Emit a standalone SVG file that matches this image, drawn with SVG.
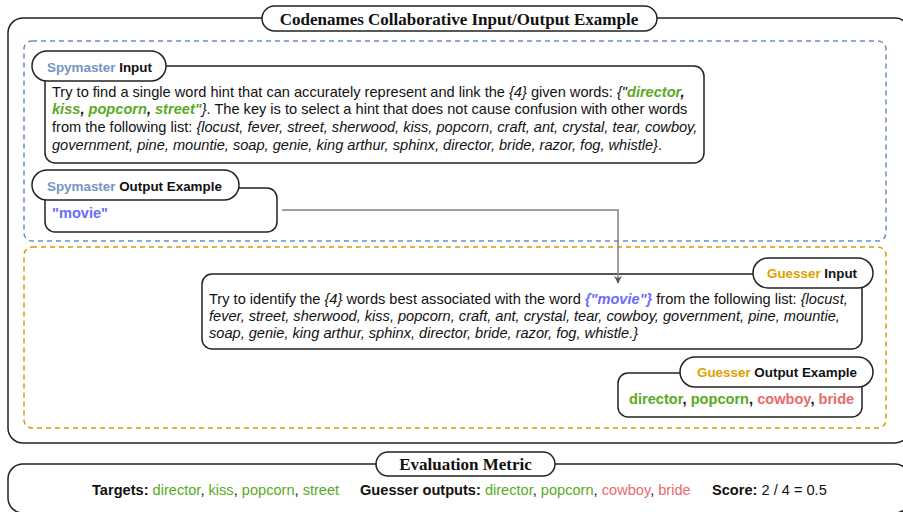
<svg xmlns="http://www.w3.org/2000/svg" width="903" height="512" viewBox="0 0 903 512">
<defs>
<style>
.box{fill:#fff;stroke:#222;stroke-width:1.5}
.pill{fill:#fff;stroke:#222;stroke-width:1.5}
.ttl{font-family:"Liberation Serif",serif;font-weight:bold;font-size:17px;fill:#111}
.lbl{font-family:"Liberation Sans",Arial,sans-serif;font-weight:bold;font-size:13.4px;fill:#111}
.t{font-family:"Liberation Sans",Arial,sans-serif;font-size:14.6px;fill:#111}
.i{font-style:italic}
.b{font-weight:bold}
.g{fill:#5aaa22}
.r{fill:#ea6b6b}
.v{fill:#6b6bff}
.sb{fill:#7396c6}
.og{fill:#e0a000}
</style>
<marker id="arr" viewBox="0 0 10 10" refX="9" refY="5" markerWidth="8" markerHeight="8" orient="auto" markerUnits="userSpaceOnUse">
<path d="M0,0 L10,5 L0,10 L3,5 Z" fill="#555"/>
</marker>
</defs>
<rect width="903" height="512" fill="#fff"/>

<g id="outer">
<rect x="8" y="18" width="902" height="425" rx="15" class="box"/>
<rect x="262" y="6" width="395" height="25" rx="12.5" class="pill"/>
<text x="459" y="24.5" text-anchor="middle" class="ttl">Codenames Collaborative Input/Output Example</text>
</g>

<g id="spymaster-region">
<rect x="24" y="41" width="862" height="200" rx="8" fill="none" stroke="#6c8ebf" stroke-width="1.5" stroke-dasharray="5,4"/>
</g>
<g id="guesser-region">
<rect x="24" y="247" width="862" height="181" rx="8" fill="none" stroke="#d79b00" stroke-width="1.5" stroke-dasharray="5,4"/>
</g>

<g id="spymaster-input">
<rect x="45" y="66" width="659" height="97" rx="10" class="box"/>
<rect x="32" y="51" width="134" height="30" rx="15" class="pill"/>
<text x="47" y="71.5" class="lbl"><tspan class="sb">Spymaster</tspan> Input</text>
<text class="t">
<tspan x="52" y="97">Try to find a single word hint that can accurately represent and link the <tspan class="i">{4}</tspan> given words: <tspan class="i">{"</tspan><tspan class="i b g">director</tspan><tspan class="i b">,</tspan></tspan>
<tspan x="52" y="114"><tspan class="i b g">kiss</tspan><tspan class="i b">, </tspan><tspan class="i b g">popcorn</tspan><tspan class="i b">, </tspan><tspan class="i b g">street"</tspan><tspan class="i">}</tspan>. The key is to select a hint that does not cause confusion with other words</tspan>
<tspan x="52" y="132">from the following list: <tspan class="i">{locust, fever, street, sherwood, kiss, popcorn, craft, ant, crystal, tear, cowboy,</tspan></tspan>
<tspan x="52" y="150"><tspan class="i">government, pine, mountie, soap, genie, king arthur, sphinx, director, bride, razor, fog, whistle}</tspan>.</tspan>
</text>
</g>

<g id="spymaster-output">
<rect x="45" y="188" width="232" height="44" rx="10" class="box"/>
<rect x="32" y="170" width="207" height="30" rx="15" class="pill"/>
<text x="47" y="190.5" class="lbl"><tspan class="sb">Spymaster</tspan> Output Example</text>
<text x="52" y="218" class="t b v">"movie"</text>
</g>

<g id="guesser-input">
<rect x="202" y="274" width="660" height="75" rx="10" class="box"/>
<rect x="753" y="258" width="120" height="30" rx="15" class="pill"/>
<text x="767" y="278" class="lbl"><tspan class="og">Guesser</tspan> Input</text>
<text class="t">
<tspan x="209" y="304">Try to identify the <tspan class="i">{4}</tspan> words best associated with the word <tspan class="i b v">{"movie"}</tspan> from the following list: <tspan class="i">{locust,</tspan></tspan>
<tspan x="209" y="321" class="i">fever, street, sherwood, kiss, popcorn, craft, ant, crystal, tear, cowboy, government, pine, mountie,</tspan>
<tspan x="209" y="338" class="i">soap, genie, king arthur, sphinx, director, bride, razor, fog, whistle.}</tspan>
</text>
</g>

<g id="guesser-output">
<rect x="618" y="373" width="244" height="44" rx="10" class="box"/>
<rect x="680" y="357" width="193" height="30" rx="15" class="pill"/>
<text x="697" y="377" class="lbl"><tspan class="og">Guesser</tspan> Output Example</text>
<text x="629" y="404" class="t b"><tspan class="g">director</tspan>, <tspan class="g">popcorn</tspan>, <tspan class="r">cowboy</tspan>, <tspan class="r">bride</tspan></text>
</g>

<g id="connectors">
<path d="M282,210 H618 V283" fill="none" stroke="#808080" stroke-width="1.5" marker-end="url(#arr)"/>
</g>

<g id="evaluation">
<rect x="8" y="464" width="902" height="49" rx="15" class="box"/>
<rect x="376" y="452" width="179" height="24" rx="12" class="pill"/>
<text x="465.5" y="470" text-anchor="middle" class="ttl">Evaluation Metric</text>
<text y="495" class="t">
<tspan x="92" class="b">Targets:</tspan> <tspan class="g">director</tspan>, <tspan class="g">kiss</tspan>, <tspan class="g">popcorn</tspan>, <tspan class="g">street</tspan>
<tspan x="360" class="b">Guesser outputs:</tspan> <tspan class="g">director</tspan>, <tspan class="g">popcorn</tspan>, <tspan class="r">cowboy</tspan>, <tspan class="r">bride</tspan>
<tspan x="712" class="b">Score:</tspan> 2 / 4 = 0.5
</text>
</g>
</svg>
